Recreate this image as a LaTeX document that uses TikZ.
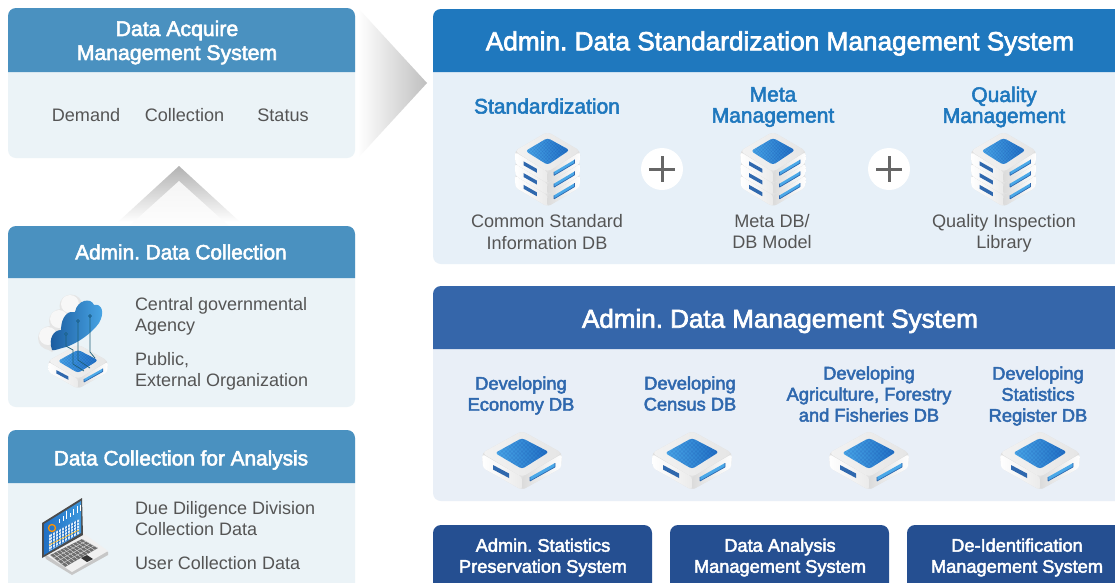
\documentclass[tikz,border=0pt]{standalone}
\usepackage{fontspec}
\setmainfont{Liberation Sans}
\newfontfamily\semif[FakeBold=2.6]{Liberation Sans}
\newcommand\fs[2]{\fontsize{#1}{#2}\selectfont\frenchspacing}
\definecolor{hdrA}{HTML}{4A91C0}
\definecolor{bodyA}{HTML}{EBF3F7}
\definecolor{hdrB}{HTML}{1F78BE}
\definecolor{bodyB}{HTML}{E7F0F8}
\definecolor{hdrC}{HTML}{3566AA}
\definecolor{bodyC}{HTML}{E9EFF7}
\definecolor{hdrD}{HTML}{254F91}
\definecolor{ink}{HTML}{555555}
\definecolor{blueT}{HTML}{1F78BE}
\definecolor{blueU}{HTML}{2F68AE}
\definecolor{trace}{HTML}{1D5F78}
\definecolor{chipL}{HTML}{4AA8E8}
\definecolor{chipD}{HTML}{2070C4}
\tikzset{
 lab/.style={inner sep=0pt,outer sep=0pt,align=center,anchor=center},
 whiteS/.style={lab,text=white,font=\semif\fs{20.8}{24}},
 whiteM/.style={lab,text=white,font=\semif\fs{18.2}{21}},
 whiteL/.style={lab,text=white,font=\semif\fs{26.2}{30}},
 whiteK/.style={lab,text=white,font=\semif\fs{26}{30}},
 headT/.style={lab,text=blueT,font=\semif\fs{21}{21}},
 headU/.style={lab,text=blueU,font=\semif\fs{18.3}{21}},
 bodyT/.style={lab,text=ink,font=\fs{18.1}{21.5}},
 bodyL/.style={lab,text=ink,align=left,anchor=west,font=\fs{18}{21}},
 plusbar/.style={ink!90,line width=3pt},
}
\newcommand\SrvLayer{%
   \fill[rounded corners=4,black!12] (-40,0)--(0,-22)--(40,0)--(39,15)--(0,37)--(-39,15)--cycle;
   \shade[left color=white,right color=black!8,rounded corners=3] (-40,1)--(0,24)--(0,37)--(-39,15)--cycle;
   \shade[left color=black!14,right color=white,rounded corners=3] (40,1)--(0,24)--(0,37)--(39,15)--cycle;
   \shade[left color=black!5,right color=black!10,rounded corners=4] (-40,0)--(0,-22)--(40,0)--(0,24)--cycle;
}
\newcommand\SrvTop{%
   \begin{scope}
   \clip[rounded corners=3] (-27,0)--(0,-15)--(27,-1)--(0,16)--cycle;
   \shade[left color=chipL,right color=chipD] (-27,-15) rectangle (27,16);
   \foreach \k in {-30,-26,...,30}{
     \draw[blue!50!black,opacity=.10,line width=.5pt] (\k-15,-15)--(\k+15,16);
     \draw[blue!50!black,opacity=.10,line width=.5pt] (\k+15,-15)--(\k-15,16);}
   \end{scope}
}
\newcommand\SrvSlots{%
   \fill[blueU] (-29,12)--(-13,20.5)--(-13,25)--(-29,16.5)--cycle;
   \fill[chipL] (8,24)--(33,10)--(33,14)--(8,28)--cycle;
   \draw[blueU,line width=.7pt] (8,28)--(33,14) (8,24)--(8,28) (33,10)--(33,14);
}
\newcommand\ServerAt[3]{%
 \begin{scope}[shift={(#1,#2)},scale=#3]
   \SrvLayer\SrvSlots\SrvTop
 \end{scope}}
\newcommand\StackAt[2]{%
 \begin{scope}[shift={(#1,#2)},xscale=.82,yscale=.87]
   \begin{scope}[shift={(0,27)}]\SrvLayer\SrvSlots\end{scope}
   \begin{scope}[shift={(0,13.5)}]\SrvLayer\SrvSlots\end{scope}
   \SrvLayer\SrvSlots\SrvTop
 \end{scope}}
\begin{document}
\begin{tikzpicture}[x=1pt,y=-1pt]
\clip (0,0) rectangle (1115,582);
\fill[white] (0,0) rectangle (1115,582);

% gradient arrows
\shade[left color=white,right color=black!25] (358,8)--(427,83)--(358,158)--cycle;
\shade[top color=black!30,bottom color=white] (179,166)--(240,222)--(118,222)--cycle;
\shade[top color=black!4,bottom color=white] (179,181)--(240,236)--(118,236)--cycle;

% left panels
\fill[bodyA,rounded corners=8] (8,8) rectangle (355,158);
\fill[hdrA] (8,72) [rounded corners=8] -- (8,8) -- (355,8) [sharp corners] -- (355,72) -- cycle;
\fill[bodyA,rounded corners=8] (8,226) rectangle (355,407);
\fill[hdrA] (8,278) [rounded corners=8] -- (8,226) -- (355,226) [sharp corners] -- (355,278) -- cycle;
\fill[bodyA,rounded corners=8] (8,430) rectangle (355,600);
\fill[hdrA] (8,483) [rounded corners=8] -- (8,430) -- (355,430) [sharp corners] -- (355,483) -- cycle;

% right panels
\fill[bodyB,rounded corners=8] (433,9) rectangle (1135,264);
\fill[hdrB] (433,72) [rounded corners=8] -- (433,9) -- (1135,9) [sharp corners] -- (1135,72) -- cycle;
\fill[bodyC,rounded corners=8] (433,286) rectangle (1135,501);
\fill[hdrC] (433,349) [rounded corners=8] -- (433,286) -- (1135,286) [sharp corners] -- (1135,349) -- cycle;
\fill[hdrD,rounded corners=8] (433,525) rectangle (652,600);
\fill[hdrD,rounded corners=8] (670,525) rectangle (889,600);
\fill[hdrD,rounded corners=8] (907,525) rectangle (1126,600);

% left texts
\node[whiteS,font=\semif\fs{21.2}{24}] (acqT) at (177,42.5) {Data Acquire\\Management System};
\node[bodyT] (dem) at (86,115) {Demand};
\node[bodyT] (col) at (184.5,115) {Collection};
\node[bodyT] (sta) at (283,115) {Status};
\node[whiteS] (admT) at (181,252) {Admin. Data Collection};
\node[bodyL] (cga) at (135,316.5) {Central governmental\\Agency};
\node[bodyL] (peo) at (135,371.5) {Public,\\External Organization};
\node[whiteS] (dcaT) at (181,460) {Data Collection for Analysis};
\node[bodyL] (ddd) at (135,518.5) {Due Diligence Division\\Collection Data};
\node[bodyL] (ucd) at (135,563) {User Collection Data};

% standardization panel
\node[whiteL] (stdT) at (780,43.5) {Admin. Data Standardization Management System};
\node[headT] (h1) at (547,106) {Standardization};
\node[headT] (h2) at (773,107) {Meta\\Management};
\node[headT] (h3) at (1004,107) {Quality\\Management};
\StackAt{547.5}{151}
\StackAt{773}{151}
\StackAt{1003.5}{151}
\node[bodyT] (d1) at (547,232) {Common Standard\\Information DB};
\node[bodyT] (d2) at (772,231.5) {Meta DB/\\DB Model};
\node[bodyT] (d3) at (1004,233.5) {Quality Inspection\\Library};
\foreach \cx/\nm in {662/pa,889/pb}{
  \node[circle,fill=white,minimum size=42pt,inner sep=0pt] (\nm) at (\cx,169) {};
  \draw[plusbar] (\cx-13,169)--(\cx+13,169) (\cx,156)--(\cx,182);
}

% management panel
\node[whiteK] (mgT) at (780,321) {Admin. Data Management System};
\node[headU] (u1) at (521,395.5) {Developing\\Economy DB};
\node[headU] (u2) at (690,393.5) {Developing\\Census DB};
\node[headU] (u3) at (869,394) {Developing\\Agriculture, Forestry\\and Fisheries DB};
\node[headU] (u4) at (1038,396) {Developing\\Statistics\\Register DB};
\ServerAt{522}{453}{1}
\ServerAt{692}{453}{1}
\ServerAt{869}{453}{1}
\ServerAt{1040}{453}{1}

% bottom boxes
\node[whiteM] (b1) at (543,557.5) {Admin. Statistics\\Preservation System};
\node[whiteM] (b2) at (780,557.5) {Data Analysis\\Management System};
\node[whiteM] (b3) at (1017,557.5) {De-Identification\\Management System};

% cloud icon
\ServerAt{78}{361}{.75}
\fill[black!10] (50,338) circle (12) (61,321) circle (12) (71,306) circle (11.5);
\fill[black!10] (40,345)--(52,352)--(90,318)--(76,296)--cycle;
\fill[black!3] (48,336) circle (9) (59,319) circle (9) (70,304) circle (9);
\shade[left color=chipD!80!black,right color=chipL]
  (52,350) .. controls (48,338) and (54,330) .. (61,330)
  .. controls (61,316) and (69,310) .. (75,312)
  .. controls (77,300) and (91,297) .. (94,305)
  .. controls (102,303) and (105,313) .. (99,323)
  .. controls (92,333) and (78,343) .. (66,347)
  .. controls (58,349) and (54,351) .. (52,350) -- cycle;
\draw[trace,line width=.7pt] (66,335)--(66,346)--(73,350)--(73,364)--(84,371)
  (78,322)--(78,360)--(90,368) (90,317)--(90,352)--(95,358);
\fill[chipD,draw=trace,line width=.5pt] (66,334) circle (1.5) (78,321) circle (1.5) (90,316) circle (1.5);

% laptop icon
\fill[black!22] (45,556)--(83,535)--(108,552)--(108,555)--(72,575)--(46,559)--cycle;
\fill[black!6] (45,554)--(83,533)--(108,551)--(72,572)--cycle;
\fill[ink!85] (50,555)--(82,539)--(98,548)--(65,567)--cycle;
\begin{scope}
  \clip (50,555)--(82,539)--(98,548)--(65,567)--cycle;
  \foreach \k in {0,3,...,30}{\draw[black!12,line width=.4pt] (50+\k*1.07,555-\k*.53)--(65+\k*1.1,567-\k*.63);}
  \foreach \k in {3,6,9}{\draw[black!12,line width=.4pt] (50+\k*1.25,555+\k*1.0)--(82+\k*1.33,539+\k*.75);}
\end{scope}
\fill[black!80] (81,558)--(87,555)--(93,559)--(87,562)--cycle;
\fill[black!70] (42,523)--(82,498)--(83,535)--(42,558)--cycle;
\shade[left color=chipD,right color=chipL!70!chipD] (44,524)--(81,501)--(81,533)--(44,555)--cycle;
\fill[white,opacity=.85] (49,535)--(79,519)--(79,534)--(49,551)--cycle;
\begin{scope}
  \clip (49,535)--(79,519)--(79,534)--(49,551)--cycle;
  \foreach \k in {0,3,...,15}{\draw[chipD,line width=.4pt] (49,535+\k)--(79,519+\k);}
  \foreach \k in {52,55,...,78}{\draw[chipD,line width=.4pt] (\k,515)--(\k,555);}
\end{scope}
\draw[orange!60!yellow,line width=.6pt] (49,545)--(79,530);
\draw[white,line width=1pt] (59.5,519)--(59.5,523) (63,516)--(63,521) (66.5,511)--(66.5,519) (70,513)--(70,517) (73.5,509)--(73.5,515) (77,506)--(77,513) (80,505)--(80,511);
\draw[orange!85!yellow,line width=1.3pt] (52,528) circle (3.5);
\end{tikzpicture}
\end{document}
